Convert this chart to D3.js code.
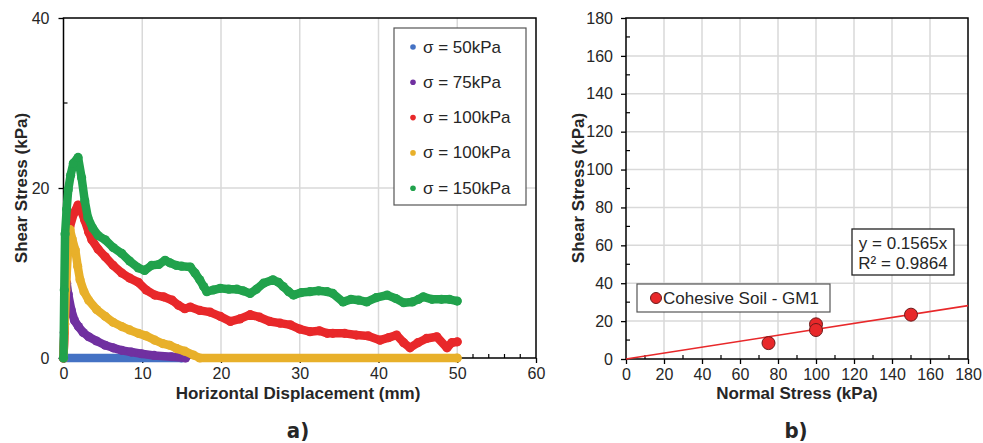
<!DOCTYPE html>
<html>
<head>
<meta charset="utf-8">
<script src="https://cdn.jsdelivr.net/npm/d3@7"></script>
<style>
  body { margin: 0; background: #fff; }
  svg { font-family: "Liberation Sans", Arial, sans-serif; }
</style>
</head>
<body>
<svg id="chart" width="983" height="443"></svg>
<script>
// ---- data ----
// a) shear stress (kPa) vs horizontal displacement (mm)
const legendLabels = ["σ = 50kPa", "σ = 75kPa", "σ = 100kPa", "σ = 100kPa", "σ = 150kPa"];
const seriesColors = ["#4472c4", "#7030a0", "#e8282a", "#e8b02a", "#21a24c"];

const sigma50 = [[0, 0], [15, 0]];
const sigma75 = [[0, 0], [0.1, 3], [0.25, 7], [0.4, 8.8], [0.6, 7.5], [1.0, 5.6], [1.4, 4.4], [1.9, 3.7],
  [2.5, 3.0], [3.2, 2.5], [4.2, 2.0], [5.3, 1.5], [6.3, 1.2], [7.4, 0.9], [8.6, 0.7], [9.9, 0.5],
  [11.5, 0.3], [13.7, 0.15], [15.5, 0]];
const sigma100a = [[0, 0], [0.15, 4], [0.3, 9], [0.5, 13], [0.8, 15.4], [1.3, 17], [1.85, 18], [2.3, 17.2],
  [2.7, 16.2], [3.2, 14.8], [3.6, 13.9], [4.4, 12.8], [5.3, 11.9], [6.3, 10.9], [7.4, 10.0], [8.4, 9.4],
  [9.5, 8.9], [10.5, 8.0], [11.6, 7.4], [12.7, 7.2], [13.8, 6.8], [14.6, 6.2], [15.4, 5.8], [16.1, 6.0],
  [17.3, 5.6], [18.6, 5.4], [19.9, 4.9], [21.2, 4.3], [22.4, 4.6], [23.7, 5.1], [24.9, 4.8], [26.2, 4.3],
  [27.5, 4.1], [28.8, 3.9], [30, 3.4], [31.3, 3.1], [32.5, 3.2], [33.5, 2.9], [34.2, 2.9], [35.7, 2.9],
  [37.2, 2.7], [38.7, 2.6], [40.2, 2.1], [41.3, 2.4], [42.3, 2.7], [43.2, 1.8], [44, 1.2], [45, 1.8],
  [46.1, 2.3], [47.4, 2.5], [48.7, 1.2], [49.3, 1.8], [50, 1.9]];
const sigma100b = [[0, 0], [0.15, 4], [0.3, 8], [0.55, 12.5], [0.83, 15.1], [1.1, 14], [1.5, 12.7], [1.8, 10.8],
  [2.1, 9.2], [2.6, 7.8], [3.2, 6.8], [4.2, 5.7], [5.3, 4.9], [6.3, 4.2], [7.4, 3.7], [8.4, 3.3],
  [9.5, 2.9], [10.5, 2.6], [11.6, 2.1], [12.6, 1.7], [13.5, 1.5], [14.4, 1.1], [15.4, 0.8], [16.5, 0.35],
  [17.3, 0], [50, 0]];
const sigma150 = [[0, 0], [0.1, 8], [0.2, 14.6], [0.4, 17.5], [0.6, 19.8], [0.9, 21.5], [1.25, 22.9], [1.85, 23.6],
  [2.3, 21.2], [2.7, 18.5], [3.1, 16.5], [3.7, 15.3], [4.4, 14.4], [5.3, 13.9], [6.3, 13.0], [7.4, 12.3],
  [8.4, 11.4], [9.5, 10.6], [10.3, 10.3], [11.2, 10.9], [12.1, 11.0], [12.9, 11.5], [13.5, 11.2], [14.3, 10.9],
  [15, 10.8], [16.1, 10.7], [16.7, 10.0], [17.3, 9.2], [17.8, 8.4], [18.2, 7.8], [19, 8.0], [19.9, 8.2],
  [21, 8.1], [22, 8.1], [22.8, 7.9], [23.7, 7.6], [24.5, 8.1], [25.4, 8.8], [26.6, 9.2], [27.3, 8.9],
  [27.9, 8.4], [28.6, 7.8], [29.2, 7.4], [30.2, 7.7], [31.3, 7.8], [32.4, 7.9], [33.5, 7.8], [34.2, 7.6],
  [35.5, 6.6], [36.5, 6.9], [37.5, 6.8], [38.5, 6.6], [39.7, 7.1], [41.1, 7.4], [42.2, 7.0], [43.2, 6.5],
  [44.3, 6.6], [45.1, 6.9], [45.7, 7.2], [46.8, 6.9], [48, 6.9], [49, 6.9], [50, 6.7]];
const curves = [sigma50, sigma75, sigma100a, sigma100b, sigma150];

const dispTicks = [0, 10, 20, 30, 40, 50, 60];
const shearTicksA = [0, 20, 40];

// b) failure envelope
const normalStress = [75, 100, 100, 150];
const peakShear = [8.4, 18.3, 15.3, 23.4];
const trendSlope = 0.1565;
const trendR2 = 0.9864;
const envelopeTicks = [0, 20, 40, 60, 80, 100, 120, 140, 160, 180];

// ---- drawing ----
const svg = d3.select("#chart");
const gridColor = "#d9d9d9";
const textColor = "#262626";

function styleAxis(g) {
  g.select(".domain").remove();
  g.selectAll(".tick line").attr("stroke", "#000").attr("stroke-width", 1.3);
  g.selectAll(".tick text").attr("fill", textColor).style("font-size", "16px");
}

// ---------- chart a ----------
const xA = d3.scaleLinear().domain([0, 60]).range([63.5, 536]);
const yA = d3.scaleLinear().domain([0, 40]).range([358, 18]);
const chartA = svg.append("g").attr("class", "chart-a");

chartA.append("g").selectAll("line.vgrid")
  .data(dispTicks.filter(d => d > 0 && d < 60))
  .join("line")
  .attr("x1", d => xA(d)).attr("x2", d => xA(d))
  .attr("y1", yA(0)).attr("y2", yA(40))
  .attr("stroke", gridColor).attr("stroke-width", 1.5);
chartA.append("g").selectAll("line.hgrid")
  .data(shearTicksA.filter(d => d > 0 && d < 40))
  .join("line")
  .attr("x1", xA(0)).attr("x2", xA(60))
  .attr("y1", d => yA(d)).attr("y2", d => yA(d))
  .attr("stroke", gridColor).attr("stroke-width", 1.5);

// minor ticks (inside)
chartA.append("g").selectAll("line")
  .data(xA.ticks(30).filter(d => d % 10 !== 0))
  .join("line")
  .attr("x1", d => xA(d)).attr("x2", d => xA(d))
  .attr("y1", yA(0)).attr("y2", yA(0) - 4)
  .attr("stroke", "#000").attr("stroke-width", 1.2);
chartA.append("g").selectAll("line")
  .data(yA.ticks(4).filter(d => d % 20 !== 0))
  .join("line")
  .attr("x1", xA(0)).attr("x2", xA(0) + 4)
  .attr("y1", d => yA(d)).attr("y2", d => yA(d))
  .attr("stroke", "#000").attr("stroke-width", 1.2);

chartA.append("g")
  .attr("transform", `translate(0,${yA(0)})`)
  .call(d3.axisBottom(xA).tickValues(dispTicks).tickSize(5).tickPadding(5))
  .call(styleAxis);
chartA.append("g")
  .attr("transform", `translate(${xA(0)},0)`)
  .call(d3.axisLeft(yA).tickValues(shearTicksA).tickSize(5).tickPadding(9))
  .call(styleAxis);

chartA.append("rect")
  .attr("x", xA(0)).attr("y", yA(40))
  .attr("width", xA(60) - xA(0)).attr("height", yA(0) - yA(40))
  .attr("fill", "none").attr("stroke", "#000").attr("stroke-width", 1.5);

const lineA = d3.line().x(d => xA(d[0])).y(d => yA(d[1]));
curves.forEach((pts, i) => {
  const g = chartA.append("g").attr("class", "series");
  g.append("path")
    .attr("d", lineA(pts))
    .attr("fill", "none")
    .attr("stroke", seriesColors[i])
    .attr("stroke-width", 8.5)
    .attr("stroke-linecap", "round")
    .attr("stroke-linejoin", "round");
  g.selectAll("circle").data(pts).join("circle")
    .attr("cx", d => xA(d[0])).attr("cy", d => yA(d[1]))
    .attr("r", 4.6).attr("fill", seriesColors[i]);
});

// legend a
const legA = chartA.append("g").attr("transform", "translate(394,28)");
legA.append("rect").attr("width", 132).attr("height", 177)
  .attr("fill", "#fff").attr("stroke", "#555").attr("stroke-width", 1.2);
legendLabels.forEach((lab, i) => {
  const row = legA.append("g").attr("transform", `translate(0,${19 + i * 35.3})`);
  row.append("circle").attr("cx", 19).attr("cy", 0).attr("r", 2.8).attr("fill", seriesColors[i]);
  row.append("text").attr("x", 29).attr("y", 0)
    .attr("dominant-baseline", "central")
    .attr("fill", textColor).style("font-size", "17px")
    .text(lab);
});

chartA.append("text")
  .attr("transform", "translate(21,188) rotate(-90)")
  .attr("text-anchor", "middle").attr("dominant-baseline", "central")
  .style("font-size", "17px").style("font-weight", "bold").attr("fill", textColor)
  .text("Shear Stress (kPa)");
chartA.append("text")
  .attr("x", 298).attr("y", 399)
  .attr("text-anchor", "middle")
  .style("font-size", "17px").style("font-weight", "bold").attr("fill", textColor)
  .text("Horizontal Displacement (mm)");

// ---------- chart b ----------
const xB = d3.scaleLinear().domain([0, 180]).range([626, 968]);
const yB = d3.scaleLinear().domain([0, 180]).range([359, 18]);
const chartB = svg.append("g").attr("class", "chart-b");

chartB.append("g").selectAll("line")
  .data(envelopeTicks.filter(d => d > 0 && d < 180))
  .join("line")
  .attr("x1", d => xB(d)).attr("x2", d => xB(d))
  .attr("y1", yB(0)).attr("y2", yB(180))
  .attr("stroke", gridColor).attr("stroke-width", 1.5);
chartB.append("g").selectAll("line")
  .data(envelopeTicks.filter(d => d > 0 && d < 180))
  .join("line")
  .attr("x1", xB(0)).attr("x2", xB(180))
  .attr("y1", d => yB(d)).attr("y2", d => yB(d))
  .attr("stroke", gridColor).attr("stroke-width", 1.5);

chartB.append("g").selectAll("line")
  .data(xB.ticks(18).filter(d => d % 20 !== 0))
  .join("line")
  .attr("x1", d => xB(d)).attr("x2", d => xB(d))
  .attr("y1", yB(0)).attr("y2", yB(0) - 4)
  .attr("stroke", "#000").attr("stroke-width", 1.2);
chartB.append("g").selectAll("line")
  .data(yB.ticks(18).filter(d => d % 20 !== 0))
  .join("line")
  .attr("x1", xB(0)).attr("x2", xB(0) + 4)
  .attr("y1", d => yB(d)).attr("y2", d => yB(d))
  .attr("stroke", "#000").attr("stroke-width", 1.2);

chartB.append("g")
  .attr("transform", `translate(0,${yB(0)})`)
  .call(d3.axisBottom(xB).tickValues(envelopeTicks).tickSize(5).tickPadding(5))
  .call(styleAxis);
chartB.append("g")
  .attr("transform", `translate(${xB(0)},0)`)
  .call(d3.axisLeft(yB).tickValues(envelopeTicks).tickSize(5).tickPadding(8))
  .call(styleAxis);

chartB.append("rect")
  .attr("x", xB(0)).attr("y", yB(180))
  .attr("width", xB(180) - xB(0)).attr("height", yB(0) - yB(180))
  .attr("fill", "none").attr("stroke", "#000").attr("stroke-width", 1.5);

chartB.append("line")
  .attr("x1", xB(0)).attr("y1", yB(0))
  .attr("x2", xB(180)).attr("y2", yB(180 * trendSlope))
  .attr("stroke", "#e8282a").attr("stroke-width", 1.6);

chartB.append("g").selectAll("circle")
  .data(normalStress.map((n, i) => [n, peakShear[i]]))
  .join("circle")
  .attr("cx", d => xB(d[0])).attr("cy", d => yB(d[1]))
  .attr("r", 6.5)
  .attr("fill", "#e8282a").attr("stroke", "#6b1a1a").attr("stroke-width", 1);

// equation box
const eq = chartB.append("g").attr("transform", "translate(852,229)");
eq.append("rect").attr("width", 102).attr("height", 46)
  .attr("fill", "#fff").attr("stroke", "#222").attr("stroke-width", 1.3);
eq.append("text").attr("x", 51).attr("y", 14).attr("text-anchor", "middle")
  .attr("dominant-baseline", "central").style("font-size", "17px").attr("fill", textColor)
  .text(`y = ${trendSlope}x`);
eq.append("text").attr("x", 51).attr("y", 34).attr("text-anchor", "middle")
  .attr("dominant-baseline", "central").style("font-size", "17px").attr("fill", textColor)
  .text(`R² = ${trendR2}`);

// legend b
const legB = chartB.append("g").attr("transform", "translate(637,284)");
legB.append("rect").attr("width", 193).attr("height", 28)
  .attr("fill", "#fff").attr("stroke", "#555").attr("stroke-width", 1.2);
legB.append("circle").attr("cx", 19).attr("cy", 14).attr("r", 5.5)
  .attr("fill", "#e8282a").attr("stroke", "#6b1a1a").attr("stroke-width", 1);
legB.append("text").attr("x", 26).attr("y", 14)
  .attr("dominant-baseline", "central").style("font-size", "17px").attr("fill", textColor)
  .text("Cohesive Soil - GM1");

chartB.append("text")
  .attr("transform", "translate(578,188) rotate(-90)")
  .attr("text-anchor", "middle").attr("dominant-baseline", "central")
  .style("font-size", "17px").style("font-weight", "bold").attr("fill", textColor)
  .text("Shear Stress (kPa)");
chartB.append("text")
  .attr("x", 797).attr("y", 399)
  .attr("text-anchor", "middle")
  .style("font-size", "17px").style("font-weight", "bold").attr("fill", textColor)
  .text("Normal Stress (kPa)");

// captions
svg.append("text").attr("x", 298).attr("y", 438).attr("text-anchor", "middle")
  .style("font-family", "'Liberation Sans Narrow', 'DejaVu Sans Condensed', sans-serif")
  .style("font-size", "22px").style("font-weight", "bold").attr("fill", textColor)
  .text("a)");
svg.append("text").attr("x", 796).attr("y", 438).attr("text-anchor", "middle")
  .style("font-family", "'Liberation Sans Narrow', 'DejaVu Sans Condensed', sans-serif")
  .style("font-size", "22px").style("font-weight", "bold").attr("fill", textColor)
  .text("b)");
</script>
</body>
</html>
